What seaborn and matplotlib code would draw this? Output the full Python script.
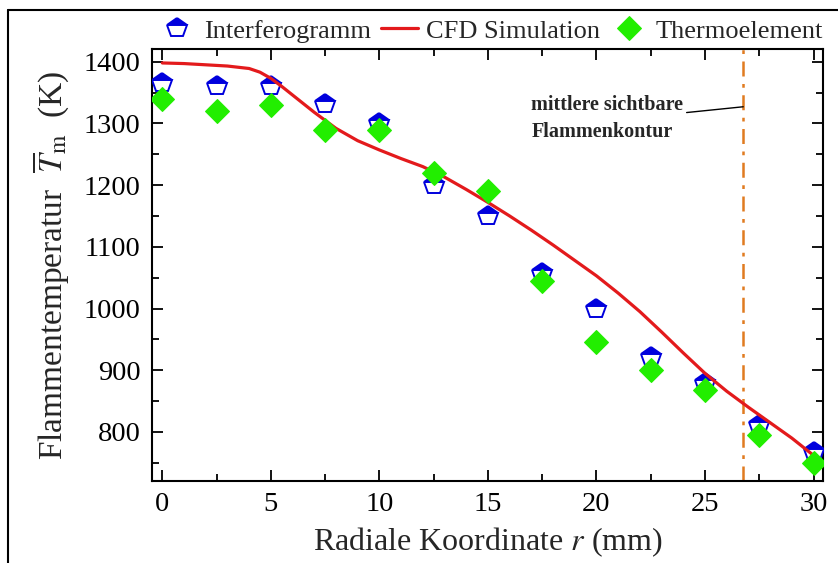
import matplotlib
matplotlib.use("Agg")
import matplotlib.pyplot as plt
from matplotlib.ticker import MultipleLocator
from matplotlib.lines import Line2D
import seaborn as sns
import pandas as pd

# --- data ---
r_meas = [0, 2.5, 5, 7.5, 10, 12.5, 15, 17.5, 20, 22.5, 25, 27.5, 30]
T_interf = [1365, 1360, 1360, 1332, 1300, 1200, 1150, 1057, 1000, 922, 880, 812, 768]
T_thermo = [1340, 1320, 1330, 1290, 1290, 1220, 1190, 1045, 945, 900, 868, 795, 750]
r_cfd = [0, 1, 2, 3, 4, 4.5, 5, 5.5, 6, 7, 8, 9, 10, 11, 12, 13, 14, 15, 16, 17, 18, 19,
         20, 21, 22, 23, 24, 25, 26, 27, 28, 29, 30]
T_cfd = [1398, 1397, 1395, 1393, 1389, 1383, 1373, 1360, 1346, 1318, 1292, 1272,
         1257, 1243, 1230, 1213, 1193, 1172, 1150, 1127, 1103, 1078, 1053, 1025,
         995, 962, 928, 895, 866, 840, 815, 790, 762]
r_contour = 26.76
labels = ["Interferogramm", "CFD Simulation", "Thermoelement"]

sns.set_theme(style="ticks")
plt.rcParams['font.family'] = ['Liberation Serif', 'DejaVu Serif']
plt.rcParams['mathtext.fontset'] = 'stix'

fig = plt.figure(figsize=(8.38, 5.63), dpi=100)
ax = fig.add_axes([0.181, 0.1456, 0.8015, 0.7667])

df_i = pd.DataFrame({"r": r_meas, "T": T_interf})
df_t = pd.DataFrame({"r": r_meas, "T": T_thermo})
df_c = pd.DataFrame({"r": r_cfd, "T": T_cfd})

ax.axvline(r_contour, color="#e07b20", lw=1.8, ls=(0, (6, 3, 1.5, 3)), zorder=1)

sns.lineplot(data=df_i, x="r", y="T", ax=ax, linestyle="none", marker="p",
             markersize=15, color="#0000dd", markerfacecolor="#0000dd",
             markerfacecoloralt="white", fillstyle="top", markeredgecolor="#0000dd",
             markeredgewidth=1.4, label=labels[0], zorder=3)
sns.lineplot(data=df_c, x="r", y="T", ax=ax, color="#e31a1c", lw=2.3,
             label=labels[1], zorder=4)
sns.lineplot(data=df_t, x="r", y="T", ax=ax, linestyle="none", marker="D",
             markersize=12, color="#22ee00", markeredgecolor="#22ee00",
             label=labels[2], zorder=5)

ax.set_xlim(-0.49, 30.45)
ax.set_ylim(720.5, 1420)
ax.xaxis.set_major_locator(MultipleLocator(5))
ax.xaxis.set_minor_locator(MultipleLocator(2.5))
ax.yaxis.set_major_locator(MultipleLocator(100))
ax.yaxis.set_minor_locator(MultipleLocator(50))
ax.tick_params(which="both", direction="in", top=True, right=True, width=1.3,
               labelsize=20.5, colors="black", pad=8)
ax.tick_params(which="major", length=8)
ax.tick_params(which="minor", length=5)
for s in ax.spines.values():
    s.set_linewidth(1.5)
    s.set_color("black")

ax.set_xlabel(r"Radiale Koordinate $r$ (mm)", fontsize=23, labelpad=6)
ax.set_ylabel(r"Flammentemperatur  $\overline{T}_{\mathrm{m}}$  (K)", fontsize=24, labelpad=9)

ax.annotate("mittlere sichtbare\nFlammenkontur", xy=(r_contour, 1327),
            xytext=(17.0, 1308), fontsize=14.5, fontweight="bold",
            ha="left", va="center", linespacing=1.45,
            arrowprops=dict(arrowstyle="-", color="black", lw=1.0,
                            shrinkA=0, shrinkB=0,
                            relpos=(1.0, 0.62)))

leg = ax.legend(loc="lower center", bbox_to_anchor=(0.505, 0.985), ncol=3,
                frameon=False, fontsize=19, handlelength=1.4, handletextpad=0.3,
                columnspacing=0.4, borderaxespad=0.1)

# partial outer frame (top and left edges only)
fig.add_artist(Line2D([8 / 838, 1.0], [1 - 10 / 563, 1 - 10 / 563],
                      transform=fig.transFigure, color="black", lw=1.5))
fig.add_artist(Line2D([8 / 838, 8 / 838], [0.0, 1 - 10 / 563],
                      transform=fig.transFigure, color="black", lw=1.5))

fig.savefig("out.png", dpi=100)
